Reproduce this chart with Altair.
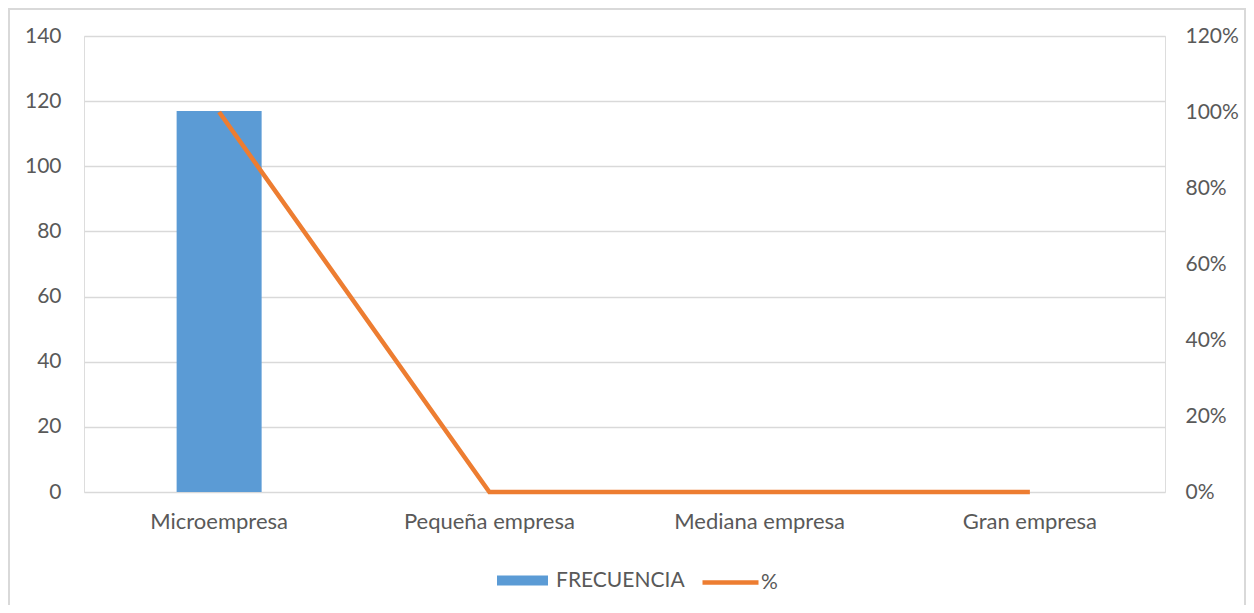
import altair as alt
import pandas as pd

categories = ["Microempresa", "Pequeña empresa", "Mediana empresa", "Gran empresa"]
frecuencia = [117, 0, 0, 0]
porcentaje = [1.0, 0.0, 0.0, 0.0]

df = pd.DataFrame({"cat": categories, "freq": frecuencia, "pct": porcentaje,
                   "s1": ["FRECUENCIA"] * 4, "s2": ["%"] * 4})

FONT = "Lato"
FS = 21
LBL = "#595959"
W, H = 1081, 456

x = alt.X("cat:N", sort=categories, title=None,
          scale=alt.Scale(paddingInner=0, paddingOuter=0),
          axis=alt.Axis(labelAngle=0, ticks=False, domain=False, labelPadding=19,
                        labelFontSize=22, labelColor=LBL, labelFont=FONT))

bars = alt.Chart(df).mark_bar(size=85).encode(
    x=x,
    y=alt.Y("freq:Q", title=None,
            scale=alt.Scale(domain=[0, 140], nice=False),
            axis=alt.Axis(values=[0, 20, 40, 60, 80, 100, 120, 140], ticks=False, domain=False,
                          labelPadding=23, labelFontSize=FS, labelColor=LBL, labelFont=FONT,
                          grid=True, gridColor="#d9d9d9", gridWidth=1.3)),
    color=alt.Color("s1:N", scale=alt.Scale(domain=["FRECUENCIA"], range=["#5B9BD5"]),
                    legend=alt.Legend(title=None, orient="none", legendX=413, legendY=519,
                                      symbolType="M-1,-0.2H1V0.2H-1Z", symbolSize=2601,
                                      labelFontSize=FS, labelColor=LBL, labelFont=FONT,
                                      labelOffset=8, symbolStrokeWidth=0)),
)

line = alt.Chart(df).mark_line(strokeWidth=4.5).encode(
    x=x,
    y=alt.Y("pct:Q", title=None,
            scale=alt.Scale(domain=[0, 1.2], nice=False),
            axis=alt.Axis(values=[0, 0.2, 0.4, 0.6, 0.8, 1.0, 1.2], format=".0%", orient="right",
                          ticks=False, domain=False, grid=False, labelPadding=20,
                          labelFontSize=FS, labelColor=LBL, labelFont=FONT)),
    stroke=alt.Stroke("s2:N", scale=alt.Scale(domain=["%"], range=["#ED7D31"]),
                      legend=alt.Legend(title=None, orient="none", legendX=616, legendY=516,
                                        symbolType="stroke", symbolSize=3136, symbolStrokeWidth=4.5,
                                        labelFontSize=FS, labelColor=LBL, labelFont=FONT,
                                        labelOffset=0)),
)

border = alt.Chart(df).mark_rect(fill=None, stroke="#d9d9d9", strokeWidth=1.5, clip=False).encode(
    x=alt.value(-75), x2=alt.value(W + 80), y=alt.value(-27), y2=alt.value(H + 138)
)

chart = alt.layer(bars, line, border).resolve_scale(y="independent", color="independent").properties(
    width=W, height=H,
    autosize=alt.AutoSizeParams(type="none"),
    padding={"left": 76, "top": 28, "right": 81, "bottom": 113},
).configure_view(stroke=None).configure(font=FONT)

chart.save("out.html", embed_options={"renderer": "svg", "actions": False})
